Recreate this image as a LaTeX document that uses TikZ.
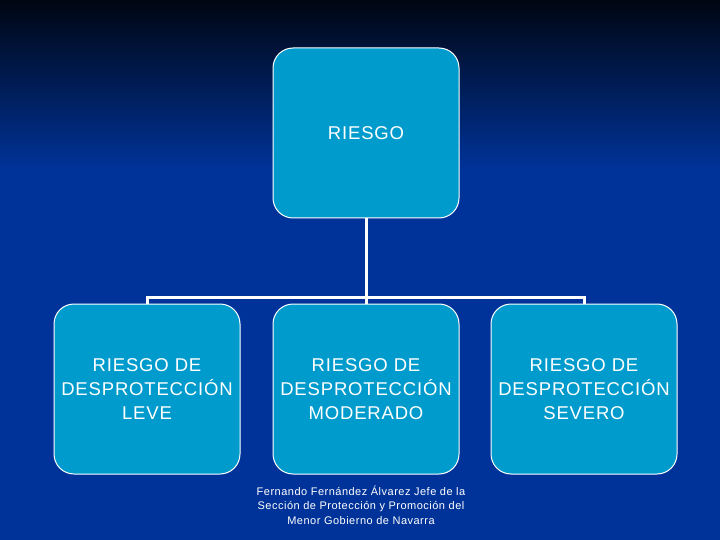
\documentclass[tikz,border=0pt]{standalone}
\usepackage{fontspec}
\setmainfont{Liberation Sans}[LetterSpace=4.5]
\definecolor{bgdark}{RGB}{0,6,18}
\definecolor{bgblue}{RGB}{0,51,153}
\definecolor{boxfill}{RGB}{0,155,205}
\usetikzlibrary{positioning}

\begin{document}
\begin{tikzpicture}[x=1pt, y=-1pt,
    riskbox/.style={draw=white, line width=1pt, fill=boxfill, rounded corners=20pt,
      minimum width=186pt, minimum height=170pt, align=center, text=white,
      font=\fontsize{18.5}{24}\selectfont},
    link/.style={draw=white, line width=3pt}]
  % background
  \useasboundingbox (0,0) rectangle (720,540);
  \fill[bgblue] (0,0) rectangle (720,540);
  \shade[top color=bgdark, bottom color=bgblue] (0,0) rectangle (720,170);
  % boxes
  \node[riskbox] (riesgo) at (366,133) {RIESGO};
  \node[riskbox] (leve) at (147,389) {RIESGO DE\\DESPROTECCIÓN\\LEVE};
  \node[riskbox] (moderado) at (366,389) {RIESGO DE\\DESPROTECCIÓN\\MODERADO};
  \node[riskbox] (severo) at (584,389) {RIESGO DE\\DESPROTECCIÓN\\SEVERO};
  % connectors
  \coordinate (junc) at (366,297);
  \draw[link] (riesgo.south) -- (junc);
  \draw[link] (leve.north) |- (junc) -| (severo.north);
  \draw[link] (junc) -- (moderado.north);
  % footer
  \node[text=white, align=center, font=\fontsize{11}{14.5}\selectfont] (autor) at (361,505)
    {Fernando Fernández Álvarez Jefe de la\\Sección de Protección y Promoción del\\Menor Gobierno de Navarra};
\end{tikzpicture}
\end{document}
